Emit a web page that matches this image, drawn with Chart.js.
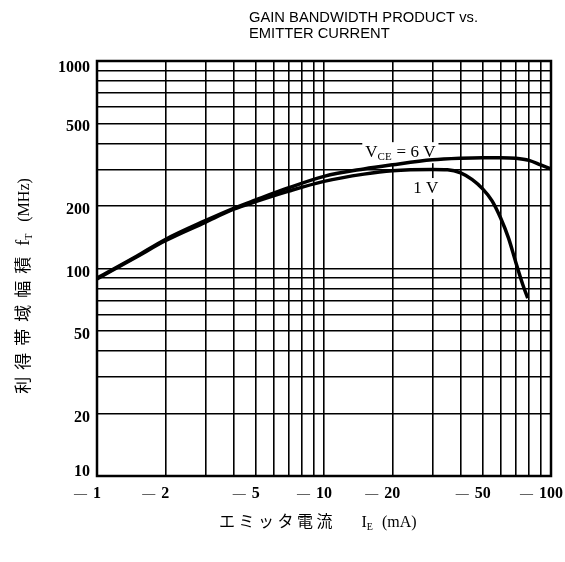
<!DOCTYPE html>
<html>
<head>
<meta charset="utf-8">
<script src="https://cdn.jsdelivr.net/npm/chart.js@4.4.0/dist/chart.umd.min.js"></script>
<style>
  html, body { margin: 0; background: #fff; }
  canvas { display: block; }
</style>
</head>
<body>
<canvas id="chart" width="565" height="562"></canvas>
<script>
// Emitter current (mA, magnitude) and gain bandwidth product (MHz)
const ie6V = [1, 1.5, 2, 3, 4, 5, 7, 10, 15, 20, 30, 40, 50, 60, 70, 80, 90, 100];
const ft6V = [90, 115, 138, 170, 195, 214, 245, 278, 302, 316, 334, 340, 342, 342, 340, 332, 316, 302];

const ie1V = [1, 1.5, 2, 3, 4, 5, 7, 10, 15, 20, 30, 35, 40, 45, 50, 55, 60, 65, 70, 75, 79];
const ft1V = [89, 114, 136, 167, 193, 210, 236, 263, 285, 296, 300, 299, 289, 268, 242, 212, 175, 140, 107, 84, 72];

// Grid lines and labelled ticks
const xGridTicks = [1, 2, 3, 4, 5, 6, 7, 8, 9, 10, 20, 30, 40, 50, 60, 70, 80, 90, 100];
const yGridTicks = [10, 20, 30, 40, 50, 60, 70, 80, 90, 100, 200, 300, 400, 500, 600, 700, 800, 900, 1000];
const xLabelTicks = [1, 2, 5, 10, 20, 50, 100];
const yLabelTicks = [10, 20, 50, 100, 200, 500, 1000];

const serif = '"Liberation Serif", "DejaVu Serif", serif';
const jp = '"Noto Sans CJK JP", "Noto Sans CJK SC", sans-serif';

function toPoints(xs, ys) {
  return xs.map((x, i) => ({ x: x, y: ys[i] }));
}

// draw a row of text pieces (subscripts, letter spacing); returns width
function drawRuns(ctx, runs, x, y, measureOnly) {
  let cx = x;
  runs.forEach(r => {
    ctx.font = r.font;
    const parts = r.ls ? r.t.split("") : [r.t];
    parts.forEach((p, i) => {
      if (!measureOnly) ctx.fillText(p, cx, y + (r.dy || 0));
      cx += ctx.measureText(p).width;
      if (r.ls && i < parts.length - 1) cx += r.ls;
    });
    cx += r.gap || 0;
  });
  return cx - x;
}

const textPlugin = {
  id: "textPlugin",
  beforeDatasetsDraw(chart) {
    const { ctx, scales: { x, y } } = chart;
    ctx.save();
    ctx.textBaseline = "alphabetic";
    ctx.textAlign = "left";

    // curve labels, white box behind (curves are drawn over it)
    const labels = [
      { ie: 15.2, ft: 344, runs: [
        { t: "V", font: `17px ${serif}` },
        { t: "CE", font: `11px ${serif}`, dy: 3, gap: 5 },
        { t: "= 6 V", font: `17px ${serif}` }
      ]},
      { ie: 24.7, ft: 231, runs: [
        { t: "1 V", font: `17px ${serif}` }
      ]}
    ];
    labels.forEach(l => {
      const lx = x.getPixelForValue(l.ie);
      const ly = y.getPixelForValue(l.ft);
      const w = drawRuns(ctx, l.runs, lx, ly, true);
      ctx.fillStyle = "#fff";
      ctx.fillRect(lx - 3, ly - 15, w + 6, 21);
      ctx.fillStyle = "#000";
      drawRuns(ctx, l.runs, lx, ly, false);
    });
    ctx.restore();
  },
  afterDraw(chart) {
    const { ctx, chartArea: a, scales: { x, y } } = chart;
    ctx.save();
    ctx.fillStyle = "#000";

    // frame
    ctx.strokeStyle = "#000";
    ctx.lineWidth = 2.5;
    ctx.strokeRect(a.left, a.top, a.right - a.left, a.bottom - a.top);

    // y tick labels
    ctx.font = `bold 16px ${serif}`;
    ctx.textAlign = "right";
    ctx.textBaseline = "alphabetic";
    yLabelTicks.forEach(v => {
      const py = y.getPixelForValue(v);
      const by = Math.min(Math.max(py + 8, a.top + 11), a.bottom);
      ctx.fillText(String(v), a.left - 7, by);
    });

    // x tick labels: number centred on the line, minus sign hung to the left
    xLabelTicks.forEach(v => {
      const px = x.getPixelForValue(v);
      ctx.font = `bold 16px ${serif}`;
      ctx.textAlign = "center";
      const s = String(v);
      const w = ctx.measureText(s).width;
      ctx.fillText(s, px, a.bottom + 22);
      ctx.font = `13px ${serif}`;
      ctx.textAlign = "right";
      ctx.fillText("\u2014", px - w / 2 - 6, a.bottom + 21);
    });

    // title
    ctx.textAlign = "left";
    ctx.font = `15px "Liberation Sans", Arial, sans-serif`;
    const t1 = "GAIN BANDWIDTH PRODUCT vs.";
    const t2 = "EMITTER CURRENT";
    const sx = 229 / ctx.measureText(t1).width;
    ctx.save();
    ctx.translate(249, 0);
    ctx.scale(sx, 1);
    ctx.fillText(t1, 0, 22);
    ctx.fillText(t2, 0, 38);
    ctx.restore();

    // x axis title
    const xt = [
      { t: "エミッタ電流", font: `16px ${jp}`, ls: 3.5, gap: 29 },
      { t: "I", font: `16px ${serif}` },
      { t: "E", font: `10px ${serif}`, dy: 3, gap: 9 },
      { t: "(mA)", font: `16px ${serif}` }
    ];
    drawRuns(ctx, xt, 219, 527, false);

    // y axis title
    const yt = [
      { t: "利得帯域幅積", font: `17px ${jp}`, ls: 7, gap: 11 },
      { t: "f", font: `18px ${serif}` },
      { t: "T", font: `10px ${serif}`, dy: 3, gap: 12 },
      { t: "(MHz)", font: `16px ${serif}` }
    ];
    const yw = drawRuns(ctx, yt, 0, 0, true);
    ctx.save();
    ctx.translate(29, 286);
    ctx.rotate(-Math.PI / 2);
    drawRuns(ctx, yt, -yw / 2, 0, false);
    ctx.restore();

    ctx.restore();
  }
};

const ctx = document.getElementById("chart").getContext("2d");
new Chart(ctx, {
  type: "line",
  data: {
    datasets: [
      {
        label: "VCE = 6 V",
        data: toPoints(ie6V, ft6V),
        borderColor: "#000",
        borderWidth: 3.5,
        pointRadius: 0,
        cubicInterpolationMode: "monotone",
        fill: false
      },
      {
        label: "1 V",
        data: toPoints(ie1V, ft1V),
        borderColor: "#000",
        borderWidth: 3.5,
        pointRadius: 0,
        cubicInterpolationMode: "monotone",
        fill: false
      }
    ]
  },
  options: {
    responsive: false,
    animation: false,
    layout: { padding: { left: 97, right: 14, top: 61, bottom: 86 } },
    plugins: { legend: { display: false }, tooltip: { enabled: false } },
    scales: {
      x: {
        type: "logarithmic",
        min: 1,
        max: 100,
        afterBuildTicks: s => { s.ticks = xGridTicks.map(v => ({ value: v })); },
        afterFit: s => { s.height = 0; },
        ticks: { display: false },
        grid: { color: "#000", lineWidth: 1.6, drawTicks: false },
        border: { display: false }
      },
      y: {
        type: "logarithmic",
        min: 10,
        max: 1000,
        afterBuildTicks: s => { s.ticks = yGridTicks.map(v => ({ value: v })); },
        afterFit: s => { s.width = 0; },
        ticks: { display: false },
        grid: { color: "#000", lineWidth: 1.6, drawTicks: false },
        border: { display: false }
      }
    }
  },
  plugins: [textPlugin]
});
</script>
</body>
</html>
